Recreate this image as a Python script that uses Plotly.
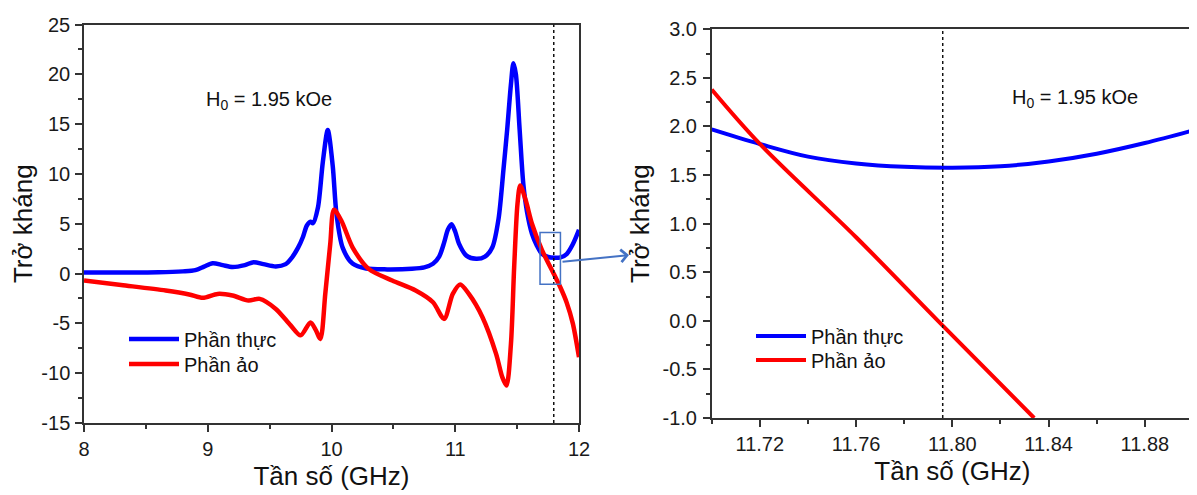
import plotly.graph_objects as go

# ---------------- data ----------------
freq_real = [8.00, 8.30, 8.60, 8.80, 8.90, 8.97, 9.04, 9.12, 9.20, 9.30, 9.37, 9.45, 9.55,
             9.63, 9.68, 9.73, 9.77, 9.80, 9.83, 9.85, 9.89, 9.93, 9.97, 10.01, 10.04,
             10.09, 10.17, 10.28, 10.45, 10.65, 10.75, 10.82, 10.87, 10.91, 10.94, 10.97,
             11.00, 11.03, 11.09, 11.17, 11.24, 11.30, 11.35, 11.39, 11.42, 11.45, 11.47,
             11.49, 11.52, 11.55, 11.58, 11.62, 11.66, 11.70, 11.75, 11.80, 11.85, 11.90,
             11.95, 12.00]
real_part = [0.10, 0.10, 0.12, 0.22, 0.35, 0.70, 1.04, 0.85, 0.66, 0.85, 1.14, 0.95, 0.72,
             0.95, 1.60, 2.60, 3.70, 4.80, 5.20, 5.05, 6.60, 11.2, 14.4, 10.8, 6.0,
             2.6, 1.0, 0.50, 0.42, 0.48, 0.62, 0.98, 1.70, 3.10, 4.40, 4.95,
             4.20, 3.00, 1.80, 1.48, 1.70, 2.64, 5.50, 10.5, 14.5, 19.0, 21.1,
             20.0, 14.5, 9.0, 6.2, 4.0, 2.80, 1.97, 1.66, 1.58, 1.62, 1.96,
             2.95, 4.40]

freq_imag = [8.00, 8.30, 8.66, 8.85, 8.96, 9.08, 9.20, 9.33, 9.42, 9.55, 9.67, 9.75, 9.83,
             9.87, 9.91, 9.95, 9.99, 10.02, 10.08, 10.17, 10.30, 10.49, 10.68, 10.82,
             10.91, 10.98, 11.04, 11.11, 11.22, 11.33, 11.38, 11.414, 11.45, 11.476,
             11.503, 11.525, 11.57, 11.62, 11.70, 11.80, 11.85, 11.90, 11.95, 12.00]
imag_part = [-0.70, -1.15, -1.70, -2.10, -2.44, -2.04, -2.20, -2.71, -2.54, -3.55, -5.20,
             -6.20, -4.90, -5.60, -6.56, -2.00, 3.00, 6.40, 5.30, 2.64, 0.47, -0.70, -1.70,
             -2.88, -4.55, -2.04, -1.10, -2.04, -4.38, -8.06, -10.4, -11.24, -7.06, 0.64,
             7.00, 8.84, 7.33, 5.00, 2.38, -0.13, -1.40, -2.90, -5.00, -8.40]

freq_zoom = [11.70, 11.72, 11.74, 11.76, 11.78, 11.80, 11.82, 11.84, 11.86, 11.88, 11.90]
real_zoom = [1.97, 1.82, 1.69, 1.62, 1.585, 1.575, 1.59, 1.64, 1.72, 1.83, 1.96]
freq_zoom_imag = [11.70, 11.72, 11.76, 11.796, 11.834]
imag_zoom = [2.38, 1.82, 0.86, -0.05, -1.00]

series_names = ["Phần thực", "Phần ảo"]
marker_freq = 11.796
field_label = "H<sub>0</sub> = 1.95 kOe"

x_ticks_left = [8, 9, 10, 11, 12]
x_ticklabels_left = ["8", "9", "10", "11", "12"]
y_ticks_left = [-15, -10, -5, 0, 5, 10, 15, 20, 25]
y_ticklabels_left = ["-15", "-10", "-5", "0", "5", "10", "15", "20", "25"]
x_ticks_right = [11.72, 11.76, 11.80, 11.84, 11.88]
x_ticklabels_right = ["11.72", "11.76", "11.80", "11.84", "11.88"]
y_ticks_right = [-1.0, -0.5, 0.0, 0.5, 1.0, 1.5, 2.0, 2.5, 3.0]
y_ticklabels_right = ["-1.0", "-0.5", "0.0", "0.5", "1.0", "1.5", "2.0", "2.5", "3.0"]

# ---------------- styling ----------------
# the page body keeps the browser's default 8px margin, so the figure is
# sized to the window minus that offset and positions are shifted by it
OFF = 8
W, H = 1197 - OFF, 495 - OFF
FONT = "Arial, 'Liberation Sans', sans-serif"
AX = "#333333"
BLUE = "#0000FF"
RED = "#FF0000"


def px_x(p):
    return (p - OFF) / W


def px_y(p):
    return 1 - (p - OFF) / H


left_dom_x = [px_x(84), px_x(579)]
left_dom_y = [px_y(423), px_y(24.5)]
right_dom_x = [px_x(711.7), px_x(1193)]
right_dom_y = [px_y(418), px_y(29.3)]

fig = go.Figure()

fig.add_trace(go.Scatter(x=freq_real, y=real_part, mode="lines", name=series_names[0],
                         line=dict(color=BLUE, width=4.5, shape="spline", smoothing=0.8),
                         xaxis="x", yaxis="y", legend="legend"))
fig.add_trace(go.Scatter(x=freq_imag, y=imag_part, mode="lines", name=series_names[1],
                         line=dict(color=RED, width=4.5, shape="spline", smoothing=0.8),
                         xaxis="x", yaxis="y", legend="legend2"))
fig.add_trace(go.Scatter(x=freq_zoom, y=real_zoom, mode="lines", name=series_names[0],
                         line=dict(color=BLUE, width=4, shape="spline"),
                         xaxis="x2", yaxis="y2", legend="legend3"))
fig.add_trace(go.Scatter(x=freq_zoom_imag, y=imag_zoom, mode="lines", name=series_names[1],
                         line=dict(color=RED, width=4, shape="spline"),
                         xaxis="x2", yaxis="y2", legend="legend4"))

tickfont = dict(family=FONT, size=20, color="#1a1a1a")
titlefont = dict(family=FONT, size=26, color="#111111")


def main_axis(domain, anchor, rng, tv, tt, minor_vals, title, standoff, lab_off):
    return dict(domain=domain, anchor=anchor, range=rng, tickmode="array", tickvals=tv,
                ticktext=tt, ticks="outside", ticklen=7, tickwidth=1.5, tickcolor=AX,
                minor=dict(tickmode="array", tickvals=minor_vals, ticks="outside",
                           ticklen=4, tickwidth=1.5, tickcolor=AX),
                showline=True, linecolor=AX, linewidth=1.5, mirror=True,
                showgrid=False, zeroline=False, tickfont=tickfont, automargin=False,
                ticklabelstandoff=lab_off,
                title=dict(text=title, font=titlefont, standoff=standoff))


def mirror_axis(overlay, anchor, side, rng, tv, minor_vals):
    return dict(overlaying=overlay, anchor=anchor, side=side, range=rng, tickmode="array",
                tickvals=tv, ticks="inside", ticklen=7, tickwidth=1.5, tickcolor=AX,
                minor=dict(tickmode="array", tickvals=minor_vals, ticks="inside",
                           ticklen=4, tickwidth=1.5, tickcolor=AX),
                showticklabels=False, showline=False, showgrid=False, zeroline=False,
                automargin=False)


def legend_at(xp, yp):
    return dict(x=px_x(xp), y=px_y(yp), xanchor="left", yanchor="middle",
                bgcolor="rgba(0,0,0,0)", borderwidth=0,
                font=dict(family=FONT, size=20, color="#111111"), itemwidth=50)


lx_minor = [8.5, 9.5, 10.5, 11.5]
ly_minor = [-12.5, -7.5, -2.5, 2.5, 7.5, 12.5, 17.5, 22.5]
rx_minor = [11.70, 11.74, 11.78, 11.82, 11.86, 11.90]
ry_minor = [-0.75, -0.25, 0.25, 0.75, 1.25, 1.75, 2.25, 2.75]

fig.update_layout(
    width=W, height=H, margin=dict(l=0, r=0, t=0, b=0, pad=0, autoexpand=False),
    paper_bgcolor="white", plot_bgcolor="white",
    font=dict(family=FONT, color="#111111"),
    xaxis=main_axis(left_dom_x, "y", [8, 12], x_ticks_left, x_ticklabels_left, lx_minor,
                    "Tần số (GHz)", 8, 0),
    yaxis=main_axis(left_dom_y, "x", [-15, 25], y_ticks_left, y_ticklabels_left, ly_minor,
                    "Trở kháng", 5, 1),
    xaxis2=main_axis(right_dom_x, "y2", [11.70, 11.90], x_ticks_right, x_ticklabels_right,
                     rx_minor, "Tần số (GHz)", 8, 0),
    yaxis2=main_axis(right_dom_y, "x2", [-1.0, 3.0], y_ticks_right, y_ticklabels_right,
                     ry_minor, "Trở kháng", 5, 2),
    xaxis3=mirror_axis("x", "y", "top", [8, 12], x_ticks_left, lx_minor),
    yaxis3=mirror_axis("y", "x", "right", [-15, 25], y_ticks_left, ly_minor),
    xaxis4=mirror_axis("x2", "y2", "top", [11.70, 11.90], x_ticks_right, rx_minor),
    yaxis4=mirror_axis("y2", "x2", "right", [-1.0, 3.0], y_ticks_right, ry_minor),
    legend=legend_at(124, 339),
    legend2=legend_at(124, 364),
    legend3=legend_at(751, 336),
    legend4=legend_at(751, 360),
    showlegend=True,
)

# dotted marker lines
fig.add_shape(type="line", xref="x", yref="y domain", x0=marker_freq, x1=marker_freq,
              y0=0, y1=1, line=dict(color="#111111", width=1.5, dash="dot"))
fig.add_shape(type="line", xref="x2", yref="y2 domain", x0=marker_freq, x1=marker_freq,
              y0=0, y1=1, line=dict(color="#111111", width=1.5, dash="dot"))

# zoom box on the left panel
fig.add_shape(type="rect", xref="x", yref="y", x0=11.685, x1=11.85, y0=-1.07, y1=4.12,
              line=dict(color="#4472C4", width=1.5), fillcolor="rgba(0,0,0,0)")

# field annotations
fig.add_annotation(x=9.494, y=17.4, xref="x", yref="y", text=field_label, showarrow=False,
                   font=dict(family=FONT, size=20, color="#111111"))
fig.add_annotation(x=11.851, y=2.29, xref="x2", yref="y2", text=field_label, showarrow=False,
                   font=dict(family=FONT, size=20, color="#111111"))

# arrow from the box to the zoomed panel
fig.add_annotation(x=px_x(629), y=px_y(255), xref="paper", yref="paper", text="",
                   showarrow=True, ax=-68, ay=7, arrowhead=4, arrowsize=1.2,
                   arrowwidth=2, arrowcolor="#4472C4", standoff=0)

fig.write_html("out.html")
